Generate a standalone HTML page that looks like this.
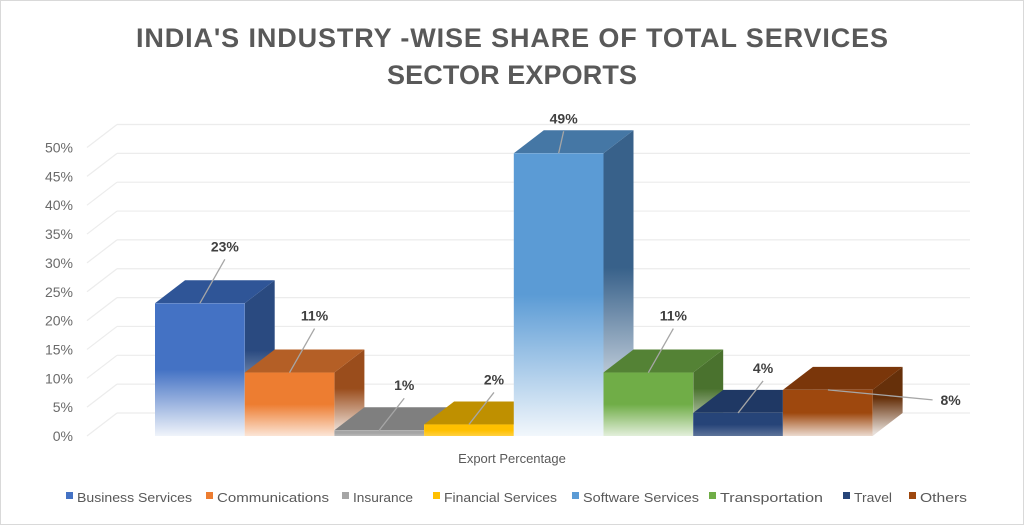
<!DOCTYPE html>
<html><head><meta charset="utf-8"><style>
body{margin:0;background:#fff}
svg{display:block;font-family:"Liberation Sans",sans-serif}
</style></head><body>
<svg width="1024" height="525" viewBox="0 0 1024 525">
<rect x="0.5" y="0.5" width="1023" height="524" fill="#fff" stroke="#d9d9d9"/>
<text x="512" y="47" text-anchor="middle" font-size="27" font-weight="bold" fill="#595959" textLength="752">INDIA'S INDUSTRY -WISE SHARE OF TOTAL SERVICES</text>
<text x="512" y="84" text-anchor="middle" font-size="27" font-weight="bold" fill="#595959" textLength="250">SECTOR EXPORTS</text>
<defs id="defs"></defs>
<g id="grid"></g>
<g id="bars"></g>
<g id="labels"></g>
<text x="512" y="463" text-anchor="middle" font-size="13" fill="#595959">Export Percentage</text>
<g id="legend"></g>
</svg>
<script>
const categories=["Business Services","Communications","Insurance","Financial Services","Software Services","Transportation","Travel","Others"];
const values=[23,11,1,2,49,11,4,8];
const labels=["23%","11%","1%","2%","49%","11%","4%","8%"];
const yTicks=[0,5,10,15,20,25,30,35,40,45,50];
const colors=["#4472c4","#ed7d31","#a5a5a5","#ffc000","#5b9bd5","#70ad47","#264478","#9e480e"];
const tops=["#2f5597","#b45f26","#7f7f7f","#bf9000","#4577a5","#548235","#1f3864","#7a360a"];
const sides=["#2a4a80","#9a4d1c","#707070","#a37c00","#38618a","#4a722e","#1a2f55","#66300a"];
const legendX=[66,206,342,433,572,709,843,909];
const legendW=[115,112,60,113,116,103,38,47];
const NS="http://www.w3.org/2000/svg";
const x0=155,bw=89.7,y0=436,ppu=5.77,dx=30,dy=-23;
const Y=v=>y0-v*ppu;
function mk(t,a,p){const e=document.createElementNS(NS,t);for(const k in a)e.setAttribute(k,a[k]);p.appendChild(e);return e;}
const grid=document.getElementById('grid'),bars=document.getElementById('bars'),lab=document.getElementById('labels'),leg=document.getElementById('legend'),defs=document.getElementById('defs');
yTicks.forEach(t=>{
 const y=Y(t);
 const l=mk('line',{x1:117,y1:y+dy,x2:970,y2:y+dy,stroke:'#ececec','stroke-width':1.2},grid);
 
 
 const d=mk('line',{x1:87,y1:y,x2:117,y2:y+dy,stroke:'#ececec','stroke-width':1.2},grid);
 
 
 const tx=mk('text',{x:73,y:y+5,'text-anchor':'end','font-size':14,fill:'#6a6a6a'},grid);
 tx.textContent=t+'%';
 
 
});
values.forEach((v,i)=>{
 const x=x0+i*bw,yt=Y(v);
 const h=y0-yt;
 const endOp=h<30?0.75:(h<70?0.2:0.08);
 const g=mk('linearGradient',{id:'g'+i,x1:0,y1:0,x2:0,y2:1},defs);
 mk('stop',{offset:0.5,'stop-color':colors[i]},g);
 mk('stop',{offset:1,'stop-color':colors[i],'stop-opacity':endOp},g);
 const gs=mk('linearGradient',{id:'s'+i,x1:0,y1:0,x2:0,y2:1},defs);
 mk('stop',{offset:0.45,'stop-color':sides[i]},gs);
 mk('stop',{offset:0.95,'stop-color':sides[i],'stop-opacity':endOp*0.8},gs);
 const grp=mk('g',{},bars);
 
 
 mk('polygon',{points:`${x+bw},${yt} ${x+bw+dx},${yt+dy} ${x+bw+dx},${y0+dy} ${x+bw},${y0}`,fill:'#fff'},grp);
 mk('polygon',{points:`${x+bw},${yt} ${x+bw+dx},${yt+dy} ${x+bw+dx},${y0+dy} ${x+bw},${y0}`,fill:`url(#s${i})`},grp);
 mk('polygon',{points:`${x},${yt} ${x+dx},${yt+dy} ${x+bw+dx},${yt+dy} ${x+bw},${yt}`,fill:tops[i]},grp);
 mk('rect',{x:x,y:yt,width:bw,height:h,fill:'#fff'},grp);
 mk('rect',{x:x,y:yt,width:bw,height:h,fill:`url(#g${i})`},grp);
 let lx=x+bw/2+25,ly=yt-52,ax=x+bw/2,ay=yt;
 if(i==7){lx=x+bw+78;ly=yt+15;ax=x+45;ay=yt;}
 if(v<5&&i!=7){ly=yt-40;}
 if(i==4){ly=yt-30;lx=x+bw/2+5;}
 const ln=mk('line',{x1:ax,y1:ay,x2:i==7?lx-18:lx,y2:i==7?ly-5:ly+8,stroke:'#a6a6a6','stroke-width':1.3},lab);
 
 
 const t=mk('text',{x:lx,y:ly,'text-anchor':'middle','font-size':14,'font-weight':'bold',fill:'#404040'},lab);
 t.textContent=labels[i];
 
 
});
categories.forEach((c,i)=>{
 const g=mk('g',{},leg);
 
 
 mk('rect',{x:legendX[i],y:492,width:7,height:7,fill:colors[i]},g);
 const t=mk('text',{x:legendX[i]+11,y:502,'font-size':13,fill:'#595959',textLength:legendW[i],lengthAdjust:'spacingAndGlyphs'},g);
 t.textContent=c;
});
</script>
</body></html>
